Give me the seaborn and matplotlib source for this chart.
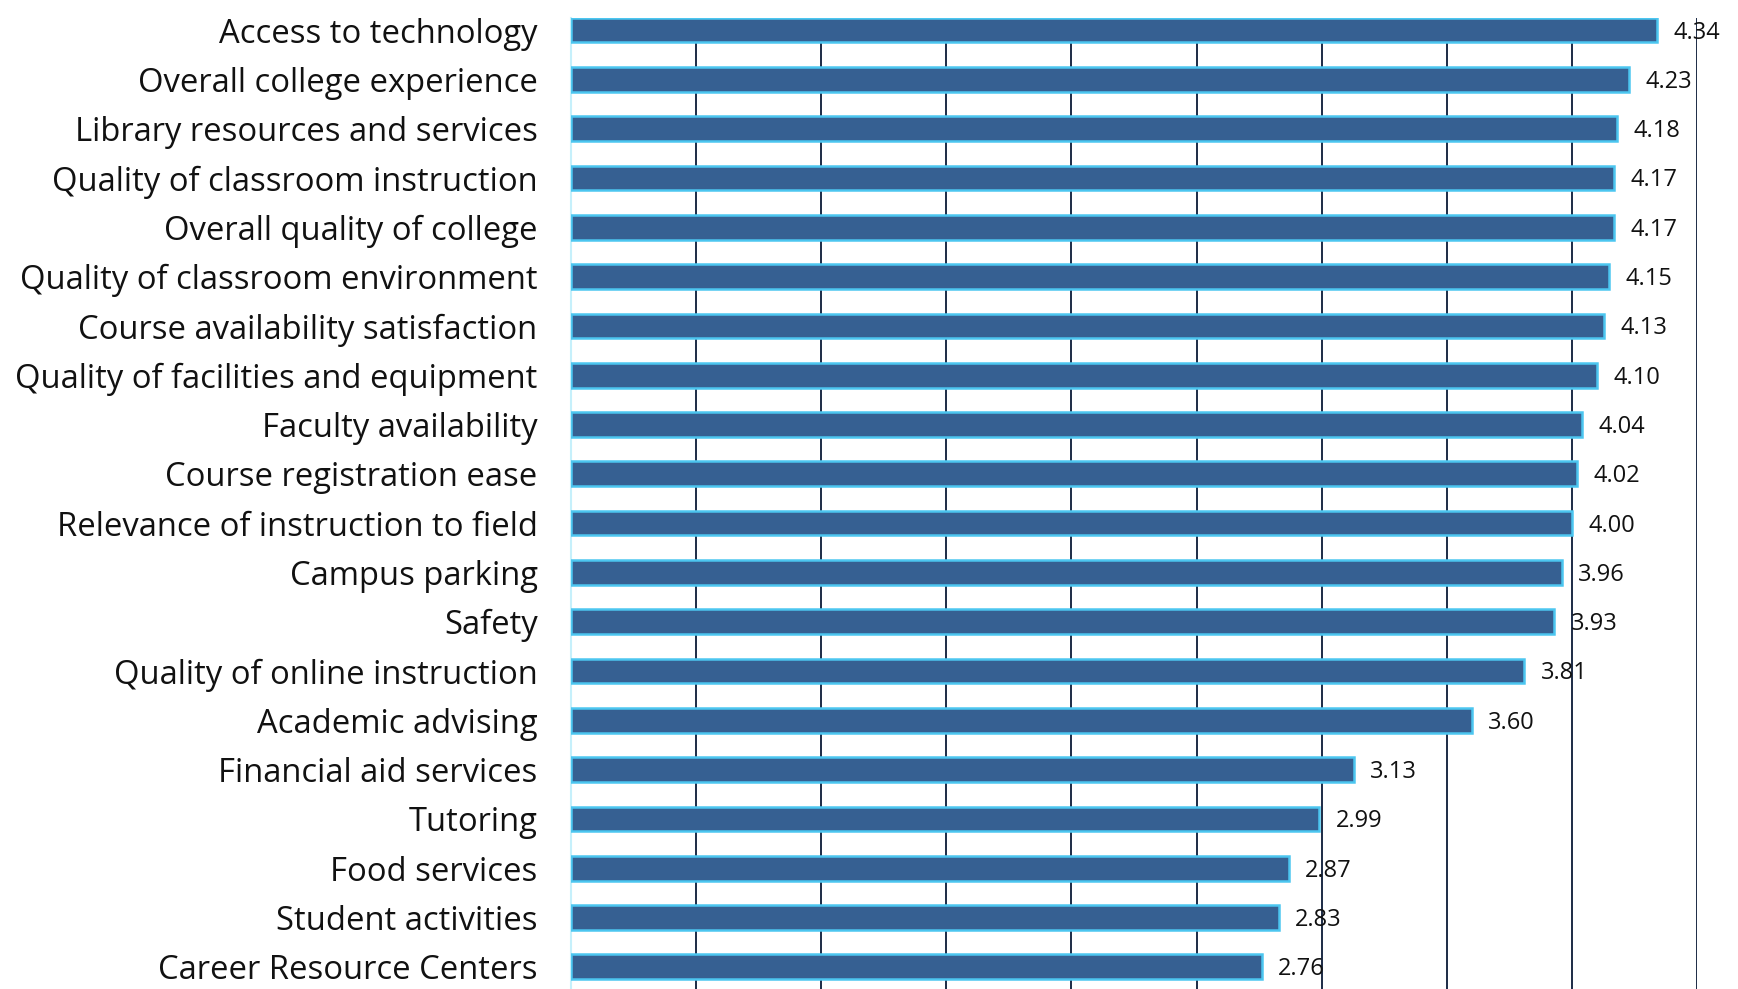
import matplotlib
matplotlib.use('Agg')
import matplotlib.pyplot as plt
import seaborn as sns
import pandas as pd

# Survey satisfaction items and mean ratings
items = [
    'Access to technology', 'Overall college experience', 'Library resources and services',
    'Quality of classroom instruction', 'Overall quality of college', 'Quality of classroom environment',
    'Course availability satisfaction', 'Quality of facilities and equipment', 'Faculty availability',
    'Course registration ease', 'Relevance of instruction to field', 'Campus parking', 'Safety',
    'Quality of online instruction', 'Academic advising', 'Financial aid services', 'Tutoring',
    'Food services', 'Student activities', 'Career Resource Centers',
]
scores = [4.34, 4.23, 4.18, 4.17, 4.17, 4.15, 4.13, 4.10, 4.04, 4.02,
          4.00, 3.96, 3.93, 3.81, 3.60, 3.13, 2.99, 2.87, 2.83, 2.76]
grid_ticks = [0.5, 1.0, 1.5, 2.0, 2.5, 3.0, 3.5, 4.0, 4.5]

df = pd.DataFrame({'item': items, 'score': scores})

sns.set_theme(style='white')
plt.rcParams['font.family'] = ['Open Sans', 'DejaVu Sans']

fig = plt.figure(figsize=(17.38, 9.89), dpi=100)
ax = fig.add_axes([0.3285, 0.0, 0.9764 - 0.3285, 0.982])

sns.barplot(data=df, x='score', y='item', orient='h', width=0.5,
            color='#366092', saturation=1, edgecolor='#4cc6f0', linewidth=1.8, ax=ax, zorder=3)

ax.set_xlim(0, 4.5)
ax.set_ylim(19.45, -0.25)
for t in grid_ticks:
    ax.axvline(t, color='#1c2b45', lw=1.4, zorder=1)

for i, v in enumerate(scores):
    ax.text(v + 0.065, i + 0.05, f'{v:.2f}', va='center', ha='left', fontsize=17,
            color='#111111', zorder=4)

ax.set_xlabel('')
ax.set_ylabel('')
ax.set_xticks([])
ax.tick_params(axis='y', length=0, pad=24, labelsize=23.6, labelcolor='#111111')
for s in ['top', 'right', 'bottom']:
    ax.spines[s].set_visible(False)
ax.spines['left'].set_color('#c6f0fb')
ax.spines['left'].set_linewidth(1.5)

fig.savefig('out.png', dpi=100)
